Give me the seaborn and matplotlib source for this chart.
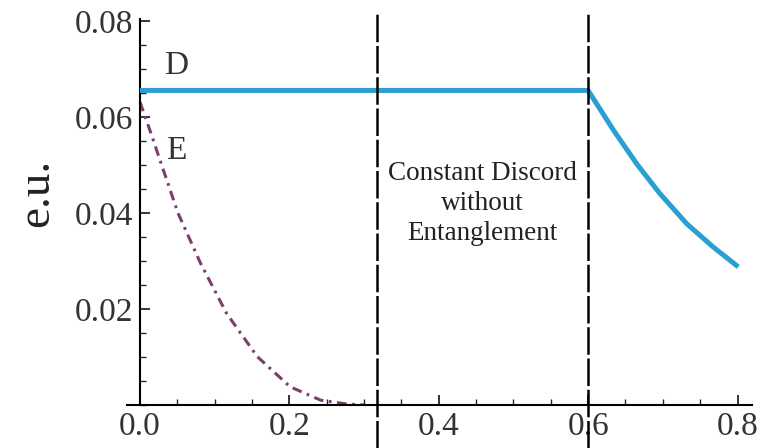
import numpy as np
import pandas as pd
import matplotlib
matplotlib.use("Agg")
import matplotlib.pyplot as plt
from matplotlib.ticker import MultipleLocator
import seaborn as sns

# discord D: flat, then decays after the second boundary
d_x = [0.0, 0.6, 0.634, 0.665, 0.696, 0.732, 0.767, 0.801]
d_y = [0.0656, 0.0656, 0.0573, 0.0503, 0.0441, 0.0378, 0.0330, 0.0288]

# entanglement E: decays to zero near the first boundary
e_x = [0.0, 0.014, 0.027, 0.051, 0.081, 0.116, 0.157, 0.201, 0.242, 0.277, 0.30]
e_y = [0.0632, 0.0570, 0.0510, 0.0400, 0.0296, 0.0191, 0.0101, 0.0038, 0.0010, 0.0002, 0.0]

boundaries = [0.318, 0.6]
x_ticks = [0.0, 0.2, 0.4, 0.6, 0.8]
y_ticks = [0.02, 0.04, 0.06, 0.08]

sns.set_theme(style="ticks")
plt.rcParams['font.family'] = ['Liberation Serif', 'DejaVu Serif']

fig = plt.figure(figsize=(7.69, 4.48), dpi=100)
ax = fig.add_axes([0.1645, 0.096, 0.814, 0.8616])

df_d = pd.DataFrame({"x": d_x, "y": d_y})
df_e = pd.DataFrame({"x": e_x, "y": e_y})

sns.lineplot(data=df_d, x="x", y="y", ax=ax, color="#2b9fd3", linewidth=3.6,
             sort=False, estimator=None, solid_capstyle="butt", zorder=3)
sns.lineplot(data=df_e, x="x", y="y", ax=ax, color="#7b3f6e", linewidth=2.2,
             sort=False, estimator=None, zorder=2)
ax.lines[-1].set_dashes((3.2, 1.8, 0.9, 1.8))

for b in boundaries:
    ax.axvline(b, ymin=-0.111, ymax=1.018, color="black", linewidth=1.8,
               dashes=(11, 1.5), clip_on=False, zorder=4)

ax.set_xlim(-0.018, 0.82)
ax.set_ylim(0, 0.0805)

ax.spines['left'].set_position(('data', 0))
ax.spines['top'].set_visible(False)
ax.spines['right'].set_visible(False)
for s in ['left', 'bottom']:
    ax.spines[s].set_linewidth(1.5)
    ax.spines[s].set_color("black")

ax.set_xticks(x_ticks)
ax.set_xticklabels([f"{v:.1f}" for v in x_ticks])
ax.set_yticks(y_ticks)
ax.set_yticklabels([f"{v:.2f}" for v in y_ticks])
ax.xaxis.set_minor_locator(MultipleLocator(0.05))
ax.yaxis.set_minor_locator(MultipleLocator(0.005))
ax.tick_params(which="major", direction="in", length=7, width=1.3,
               labelsize=24, labelcolor="#333333", pad=5)
ax.tick_params(which="minor", direction="in", length=4, width=1.0)

ax.set_xlabel("")
ax.set_ylabel("e.u.", fontsize=34, color="#222222")
ax.yaxis.set_label_coords(-0.11, 0.549)

ax.text(0.048, 0.0708, "D", fontsize=24, color="#333333", ha="center", va="center")
ax.text(0.048, 0.0530, "E", fontsize=24, color="#333333", ha="center", va="center")
ax.text(0.459, 0.0420, "Constant Discord\nwithout\nEntanglement", fontsize=19.5,
        color="#222222", ha="center", va="center", linespacing=1.25)

fig.savefig("out.png", dpi=100)
